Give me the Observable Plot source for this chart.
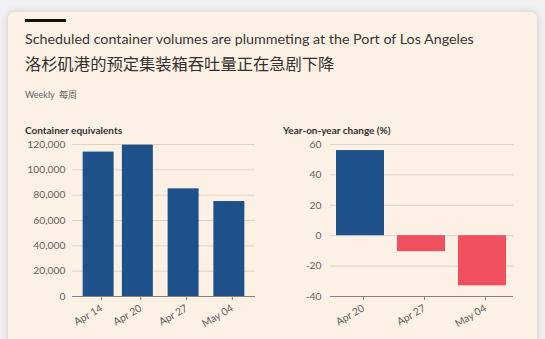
<!DOCTYPE html>
<html><head><meta charset="utf-8">
<script src="https://cdn.jsdelivr.net/npm/d3@7"></script>
<script src="https://cdn.jsdelivr.net/npm/@observablehq/plot@0.6"></script>
<style>
html,body{margin:0;padding:0;}
body{background:#f1f1f1;width:545px;height:339px;overflow:hidden;position:relative;font-family:Lato,"Noto Sans CJK SC",sans-serif;}
#card{position:absolute;left:8px;top:12px;width:529px;height:345px;background:#fdf1e6;border-radius:6px;box-shadow:0 0 7px rgba(0,0,0,0.16);}
.t{position:absolute;white-space:nowrap;line-height:1;}
#bar{position:absolute;left:25px;top:19px;width:41px;height:3px;background:#111;}
#title{left:25px;top:32px;font-size:14.3px;color:#3a3633;}
#sub{left:25px;top:55px;font-size:16.3px;color:#33302e;font-family:"Noto Sans CJK SC",sans-serif;}
#weekly{left:25px;top:90px;font-size:9px;color:#66605c;}
.ct{top:125px;font-size:10px;font-weight:bold;color:#33302e;}
#lt{left:25px;}
#rt{left:283px;}
#left{position:absolute;left:0;top:135px;}
#right{position:absolute;left:270px;top:135px;}
</style></head>
<body>
<div id="card"></div>
<div id="bar"></div>
<div class="t" id="title">Scheduled container volumes are plummeting at the Port of Los Angeles</div>
<div class="t" id="sub">洛杉矶港的预定集装箱吞吐量正在急剧下降</div>
<div class="t" id="weekly">Weekly&nbsp; 每周</div>
<div class="t ct" id="lt">Container equivalents</div>
<div class="t ct" id="rt">Year-on-year change (%)</div>
<div id="left"></div>
<div id="right"></div>
<script>
const volDates = ["2020-04-14","2020-04-20","2020-04-27","2020-05-04"];
const volValues = [114000,119500,85000,75000];
const volTicks = [0,20000,40000,60000,80000,100000,120000];
const yoyLabels = ["Apr 20","Apr 27","May 04"];
const yoyValues = [56,-10.5,-33];
const yoyTicks = [-40,-20,0,20,40,60];

const BLUE = "#1e5189", RED = "#f04f5f", GRID = "#ddd3c8", AXIS = "#8a827b", TXT = "#66605c";
const DAY = 864e5, HALF = 2.37 * DAY;
const vol = volDates.map((d,i)=>({date:new Date(d), value:volValues[i]}));
const yoy = yoyLabels.map((l,i)=>({label:l, value:yoyValues[i]}));
const style = {background:"transparent", fontFamily:"Lato, sans-serif", fontSize:"10.3px", color:TXT, overflow:"visible"};

const left = Plot.plot({
  width:265, height:204, marginTop:9, marginBottom:43, marginLeft:72, marginRight:10,
  style,
  x:{type:"utc", domain:[new Date("2020-04-10"), new Date("2020-05-08")]},
  y:{domain:[0,120000]},
  marks:[
    Plot.gridY(volTicks,{stroke:GRID, strokeOpacity:1}),
    Plot.rectY(vol,{x1:d=>new Date(+d.date-HALF), x2:d=>new Date(+d.date+HALF), y:"value", fill:BLUE}),
    Plot.axisY(volTicks,{tickFormat:d3.format(","), tickSize:0, tickPadding:7, label:null}),
    Plot.axisX(vol.map(d=>d.date),{tickFormat:d3.utcFormat("%b %d"), tickRotate:-30, tickSize:4, tickPadding:7, dx:3, label:null, stroke:AXIS}),
    Plot.ruleY([0],{stroke:AXIS})
  ]
});
document.getElementById("left").append(left);

const right = Plot.plot({
  width:275, height:204, marginTop:9, marginBottom:43, marginLeft:60, marginRight:32,
  style,
  x:{domain:yoyLabels, paddingInner:0.21, paddingOuter:0.1},
  y:{domain:[-40,60]},
  color:{type:"identity"},
  marks:[
    Plot.gridY(yoyTicks,{stroke:GRID, strokeOpacity:1}),
    Plot.barY(yoy,{x:"label", y:"value", fill:d=>d.value>0?BLUE:RED}),
    Plot.axisY(yoyTicks,{tickFormat:d=>String(d), tickSize:0, tickPadding:9, label:null}),
    Plot.axisX(yoyLabels,{tickRotate:-30, tickSize:4, tickPadding:7, dx:3, label:null, stroke:AXIS}),
    Plot.ruleY([-40],{stroke:AXIS})
  ]
});
document.getElementById("right").append(right);
</script>
</body></html>
